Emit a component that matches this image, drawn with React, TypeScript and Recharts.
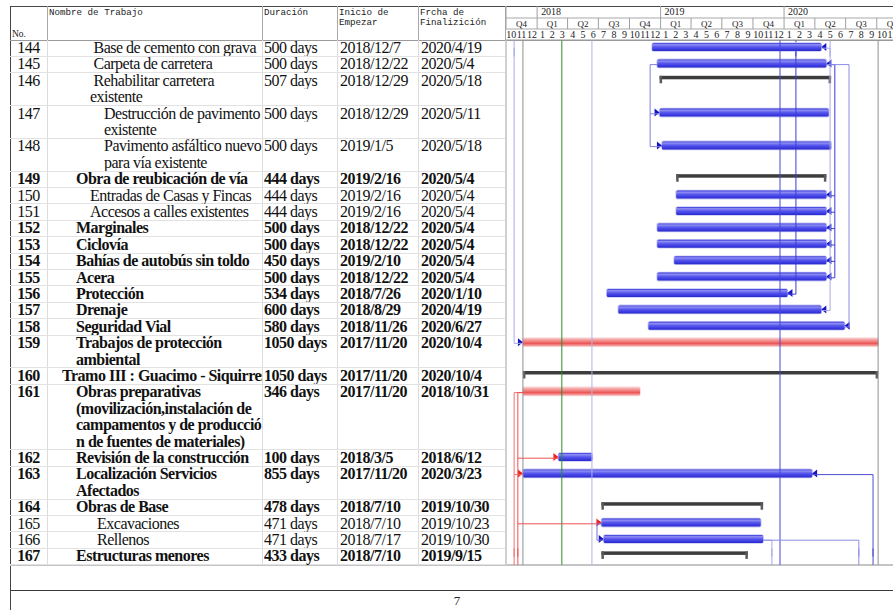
import React from "react";
import { BarChart, Bar, XAxis, YAxis, ReferenceLine, ReferenceArea } from "recharts";

const taskIds = [144, 145, 146, 147, 148, 149, 150, 151, 152, 153, 154, 155, 156, 157, 158, 159, 160, 161, 162, 163, 164, 165, 166, 167];

const taskNames = [
  " Base de cemento con grava",
  " Carpeta de carretera",
  " Rehabilitar carretera\nexistente",
  "Destrucción de pavimento\nexistente",
  "Pavimento asfáltico nuevo\npara vía existente",
  "Obra de reubicación de vía",
  "Entradas de Casas y Fincas",
  "Accesos a calles existentes",
  "Marginales",
  "Ciclovía",
  "Bahías de autobús sin toldo",
  "Acera",
  "Protección",
  "Drenaje",
  "Seguridad Vial",
  "Trabajos de protección\nambiental",
  "Tramo III : Guacimo - Siquirres",
  "Obras preparativas\n(movilización,instalación de\ncampamentos y de producció\nn de fuentes de materiales)",
  "Revisión de la construcción",
  "Localización Servicios\nAfectados",
  "Obras de Base",
  "  Excavaciones",
  "  Rellenos",
  "Estructuras menores",
];

const taskLevels = [3, 3, 3, 4, 4, 2, 3, 3, 2, 2, 2, 2, 2, 2, 2, 2, 1, 2, 2, 2, 2, 3, 3, 2];
const taskBold = [false, false, false, false, false, true, false, false, true, true, true, true, true, true, true, true, true, true, true, true, true, false, false, true];

const taskDurations = [
  "500 days", "500 days", "507 days", "500 days", "500 days", "444 days", "444 days", "444 days",
  "500 days", "500 days", "450 days", "500 days", "534 days", "600 days", "580 days", "1050 days",
  "1050 days", "346 days", "100 days", "855 days", "478 days", "471 days", "471 days", "433 days",
];

const taskStarts = [
  "2018/12/7", "2018/12/22", "2018/12/29", "2018/12/29", "2019/1/5", "2019/2/16", "2019/2/16", "2019/2/16",
  "2018/12/22", "2018/12/22", "2019/2/10", "2018/12/22", "2018/7/26", "2018/8/29", "2018/11/26", "2017/11/20",
  "2017/11/20", "2017/11/20", "2018/3/5", "2017/11/20", "2018/7/10", "2018/7/10", "2018/7/17", "2018/7/10",
];

const taskEnds = [
  "2020/4/19", "2020/5/4", "2020/5/18", "2020/5/11", "2020/5/18", "2020/5/4", "2020/5/4", "2020/5/4",
  "2020/5/4", "2020/5/4", "2020/5/4", "2020/5/4", "2020/1/10", "2020/4/19", "2020/6/27", "2020/10/4",
  "2020/10/4", "2018/10/31", "2018/6/12", "2020/3/23", "2019/10/30", "2019/10/23", "2019/10/30", "2019/9/15",
];

// task | summary | critical
const taskKinds = [
  "task", "task", "summary", "task", "task", "summary", "task", "task",
  "task", "task", "task", "task", "task", "task", "task", "critical",
  "summary", "critical", "task", "task", "summary", "task", "task", "summary",
];

const finishArrowIds = [144, 145, 150, 151, 152, 153, 154, 155, 156, 157, 158, 163];
const startArrowIds = [147, 148, 159, 166];
const startArrowRedIds = [162, 163, 165];

// timeline header
const yearStarts = ["2017/10/1", "2018/1/1", "2019/1/1", "2020/1/1"];
const yearLabels = ["", "2018", "2019", "2020"];
const quarterStarts = [
  "2017/10/1", "2018/1/1", "2018/4/1", "2018/7/1", "2018/10/1", "2019/1/1", "2019/4/1",
  "2019/7/1", "2019/10/1", "2020/1/1", "2020/4/1", "2020/7/1", "2020/10/1",
];
const quarterLabels = ["Q4", "Q1", "Q2", "Q3", "Q4", "Q1", "Q2", "Q3", "Q4", "Q1", "Q2", "Q3", "Q4"];
const monthLabels = [
  "10", "11", "12", "1", "2", "3", "4", "5", "6", "7", "8", "9", "10", "11", "12",
  "1", "2", "3", "4", "5", "6", "7", "8", "9", "10", "11", "12",
  "1", "2", "3", "4", "5", "6", "7", "8", "9", "10", "11",
];

// vertical marker lines (project start, status date, deadline, ..., project finish)
const markerDates = ["2017/11/20", "2018/3/15", "2018/6/12", "2019/12/20", "2020/10/5"];
const markerColors = ["#8e8e8e", "#2a8a2a", "#b0b0ea", "#4646dc", "#8e8e8e"];

// dependency connectors
const links = [
  { date: "2020/2/5", rows: [156], top: true, bottom: false, side: "end", color: "#3a3ad8" },
  { date: "2020/5/30", rows: [145, 150, 151, 152, 153, 154, 155], top: false, bottom: false, side: "end", color: "#3a3ad8" },
  { date: "2020/5/16", rows: [144, 157], top: true, bottom: false, side: "end", color: "#a8a8e8" },
  { date: "2020/7/11", rows: [145, 158], top: false, bottom: false, side: "end", color: "#8c8ce4" },
  { date: "2017/10/25", rows: [159], top: true, bottom: false, side: "start", color: "#a8a8e8" },
  { date: "2017/10/25", rows: [161, 163], top: false, bottom: true, side: "start", color: "#f07070" },
  { date: "2017/11/5", rows: [161, 162, 165], top: false, bottom: true, side: "start", color: "#f05050" },
  { date: "2018/12/1", rows: [145, 147, 148], top: false, bottom: false, side: "start", color: "#8080dc" },
  { date: "2018/6/27", rows: [165, 166], top: false, bottom: false, side: "start", color: "#7070d8" },
  { date: "2019/11/26", rows: [166], top: false, bottom: true, side: "end", color: "#a8a8e8" },
  { date: "2020/8/9", rows: [166], top: false, bottom: true, side: "end", color: "#8c8ce4" },
  { date: "2020/9/20", rows: [163], top: false, bottom: true, side: "end", color: "#4a4ad8" },
];

const EPOCH = Date.UTC(2017, 9, 1);
const DAY = 86400000;
const dayOf = (s: string) => {
  const [y, m, d] = s.split("/").map(Number);
  return (Date.UTC(y, m - 1, d) - EPOCH) / DAY;
};

const LINE_H = 16.4;
const TOP = 40;
const PLOT_W = 388;
const X0 = dayOf("2017/9/28");
const X1 = dayOf("2020/11/18");
const PPD = PLOT_W / (X1 - X0);
const HALF_PX = 0.5 / PPD;

const lineCounts = taskNames.map((n) => n.split("\n").length);
const lineStarts = lineCounts.map((_, i) => lineCounts.slice(0, i).reduce((a, b) => a + b, 0));
const totalLines = lineCounts.reduce((a, b) => a + b, 0);

const chartRows: any[] = [];
taskIds.forEach((id, i) => {
  chartRows.push({
    key: `r${id}`,
    kind: taskKinds[i],
    range: [dayOf(taskStarts[i]), dayOf(taskEnds[i]) + 1],
    finishArrow: finishArrowIds.includes(id),
    startArrow: startArrowRedIds.includes(id) ? "red" : startArrowIds.includes(id) ? "blue" : "",
  });
  for (let j = 1; j < lineCounts[i]; j++) chartRows.push({ key: `r${id}-${j}`, kind: "blank", range: null });
});
const firstKey = `r${taskIds[0]}`;
const lastKey = `r${taskIds[taskIds.length - 1]}`;

const monthTicks = monthLabels.map((_, i) => (Date.UTC(2017, 9 + i, 1) - EPOCH) / DAY);
const quarterTicks = quarterStarts.map(dayOf);
const yearTicks = yearStarts.map(dayOf);

function MonthTick(props: any) {
  const { x, y, index } = props;
  const v = monthTicks[index];
  const next = index + 1 < monthTicks.length ? monthTicks[index + 1] : v + 30;
  return (
    <text x={x + ((next - v) / 2) * PPD} y={y - 2} textAnchor="middle" fontSize={10} fontFamily="'Liberation Serif', serif" fill="#222">
      {monthLabels[index]}
    </text>
  );
}

function QuarterTick(props: any) {
  const { x, y, index } = props;
  const v = quarterTicks[index];
  const next = index + 1 < quarterTicks.length ? quarterTicks[index + 1] : v + 92;
  return (
    <g>
      <line x1={x} x2={x} y1={y - 11} y2={y} stroke="#a0a0a0" />
      <text x={x + ((next - v) / 2) * PPD} y={y - 2} textAnchor="middle" fontSize={9} fontFamily="'Liberation Serif', serif" fill="#222">
        {quarterLabels[index]}
      </text>
    </g>
  );
}

function YearTick(props: any) {
  const { x, y, index } = props;
  return (
    <g>
      <line x1={x} x2={x} y1={y - 12} y2={y} stroke="#a0a0a0" />
      <text x={x + 4} y={y - 2.5} fontSize={10} fontFamily="'Liberation Serif', serif" fill="#222">
        {yearLabels[index]}
      </text>
    </g>
  );
}

function GanttShape(props: any) {
  const { x, y, width, height, payload } = props;
  if (!payload || !payload.range || !isFinite(x) || !isFinite(width)) return <g />;
  const cy = y + height / 2 - 1;
  const x2 = x + width;
  if (payload.kind === "summary") {
    return (
      <g>
        <rect x={x} y={cy - 4} width={width} height={3.5} fill="#3d3d3d" />
        <rect x={x} y={cy - 4} width={2.5} height={7.5} fill="#5a5a5a" />
        <rect x={x2 - 2.5} y={cy - 4} width={2.5} height={7.5} fill="#5a5a5a" />
      </g>
    );
  }
  const red = payload.kind === "critical";
  return (
    <g>
      <rect x={x - 0.8} y={cy - 4.8} width={width + 1.6} height={9.6} rx={2.5} fill={red ? "#fbd2d2" : "#c8c8f6"} />
      <rect x={x} y={cy - 4} width={width} height={8} rx={1.5} fill={red ? "url(#gRed)" : "url(#gBlue)"} />
      {payload.finishArrow && (
        <polygon points={`${x2},${cy} ${x2 + 5},${cy - 4} ${x2 + 5},${cy + 4}`} fill="#1414c4" />
      )}
      {payload.startArrow && (
        <polygon
          points={`${x},${cy} ${x - 5},${cy - 4} ${x - 5},${cy + 4}`}
          fill={payload.startArrow === "red" ? "#ee2222" : "#1414c4"}
        />
      )}
    </g>
  );
}

const cellText: React.CSSProperties = {
  position: "absolute",
  top: 0,
  fontFamily: "'Liberation Serif', 'Times New Roman', serif",
  fontSize: 16,
  letterSpacing: -0.5,
  lineHeight: `${LINE_H}px`,
  whiteSpace: "pre",
  overflow: "hidden",
  color: "#111",
};

const headText: React.CSSProperties = {
  position: "absolute",
  top: 8,
  fontFamily: "'Liberation Mono', monospace",
  fontSize: 9.2,
  lineHeight: "9.6px",
  whiteSpace: "pre",
  color: "#222",
};

export default function App() {
  const bodyBottom = TOP + totalLines * LINE_H;
  const colLines = [47, 262, 337, 418];
  return (
    <div style={{ position: "absolute", left: 0, top: 0, width: 893, height: 610, background: "#fff", overflow: "hidden" }}>
      {/* frame */}
      <div style={{ position: "absolute", left: 10, top: 5.5, width: 883, height: 1.5, background: "#4a4a4a" }} />
      <div style={{ position: "absolute", left: 9.5, top: 5.5, width: 1.2, height: 605, background: "#444" }} />
      <div style={{ position: "absolute", left: 10, top: 39.5, width: 883, height: 1.2, background: "#9a9a9a" }} />
      <div style={{ position: "absolute", left: 10, top: bodyBottom - 0.5, width: 883, height: 2, background: "#c4c4c4" }} />
      <div style={{ position: "absolute", left: 10, top: 589.5, width: 883, height: 1.5, background: "#3a3a3a" }} />
      <div style={{ position: "absolute", left: 440, top: 593, width: 34, textAlign: "center", fontFamily: "'Liberation Serif', serif", fontSize: 13, color: "#222" }}>7</div>

      {/* column separators */}
      {[...colLines, 505].map((cx) => (
        <React.Fragment key={cx}>
          <div style={{ position: "absolute", left: cx - 0.5, top: 6, width: 1, height: 34, background: "#a8a8a8" }} />
          <div style={{ position: "absolute", left: cx - 0.5, top: 40, width: cx === 505 ? 2 : 1, height: bodyBottom - 40, background: cx === 505 ? "#d0d0d0" : "#dcdcdc" }} />
        </React.Fragment>
      ))}

      {/* header */}
      <div style={{ ...headText, left: 12, top: 30, fontFamily: "'Liberation Serif', serif", fontSize: 9.5 }}>No.</div>
      <div style={{ ...headText, left: 49 }}>Nombre de Trabajo</div>
      <div style={{ ...headText, left: 264 }}>Duración</div>
      <div style={{ ...headText, left: 339 }}>{"Inicio de\nEmpezar"}</div>
      <div style={{ ...headText, left: 420 }}>{"Frcha de\nFinalizición"}</div>

      {/* table rows */}
      {taskIds.map((id, i) => {
        const top = TOP + lineStarts[i] * LINE_H;
        const h = lineCounts[i] * LINE_H;
        const weight = taskBold[i] ? 700 : 400;
        return (
          <div key={id} style={{ position: "absolute", left: 10, top, width: 495, height: h }}>
            <div style={{ position: "absolute", left: 0, right: 0, bottom: -0.5, height: 1, background: "#e2e2e2" }} />
            <div style={{ ...cellText, left: 0, width: 37, textAlign: "center", fontWeight: weight }}>{id}</div>
            <div style={{ ...cellText, left: 38 + 14 * taskLevels[i], width: 252 - 38 - 14 * taskLevels[i], fontWeight: weight }}>
              {taskNames[i]}
            </div>
            <div style={{ ...cellText, left: 254, width: 73, fontWeight: weight }}>{taskDurations[i]}</div>
            <div style={{ ...cellText, left: 330, width: 78, fontWeight: weight }}>{taskStarts[i]}</div>
            <div style={{ ...cellText, left: 411, width: 84, fontWeight: weight }}>{taskEnds[i]}</div>
          </div>
        );
      })}

      {/* gantt */}
      <div style={{ position: "absolute", left: 505, top: 6 }}>
        <BarChart
          layout="vertical"
          width={PLOT_W}
          height={34 + totalLines * LINE_H}
          data={chartRows}
          barSize={8}
          margin={{ top: 0, right: 0, bottom: 0, left: 0 }}
        >
          <defs>
            <linearGradient id="gBlue" x1="0" y1="0" x2="0" y2="1">
              <stop offset="0%" stopColor="#3434d8" />
              <stop offset="20%" stopColor="#8e8ef3" />
              <stop offset="50%" stopColor="#5656ec" />
              <stop offset="80%" stopColor="#3a3ae2" />
              <stop offset="100%" stopColor="#2a2ac6" />
            </linearGradient>
            <linearGradient id="gRed" x1="0" y1="0" x2="0" y2="1">
              <stop offset="0%" stopColor="#f7c0c0" />
              <stop offset="35%" stopColor="#f28a8a" />
              <stop offset="65%" stopColor="#ec5454" />
              <stop offset="100%" stopColor="#f5b0b0" />
            </linearGradient>
          </defs>
          <XAxis
            xAxisId="month"
            type="number"
            orientation="top"
            domain={[X0, X1]}
            allowDataOverflow
            ticks={monthTicks}
            interval={0}
            height={11}
            tickSize={0}
            tickMargin={0}
            tickLine={false}
            axisLine={{ stroke: "#9a9a9a" }}
            tick={(p: any) => <MonthTick {...p} />}
          />
          <XAxis
            xAxisId="quarter"
            type="number"
            orientation="top"
            domain={[X0, X1]}
            allowDataOverflow
            ticks={quarterTicks}
            interval={0}
            height={11}
            tickSize={0}
            tickMargin={0}
            tickLine={false}
            axisLine={{ stroke: "#a8a8a8" }}
            tick={(p: any) => <QuarterTick {...p} />}
          />
          <XAxis
            xAxisId="year"
            type="number"
            orientation="top"
            domain={[X0, X1]}
            allowDataOverflow
            ticks={yearTicks}
            interval={0}
            height={12}
            tickSize={0}
            tickMargin={0}
            tickLine={false}
            axisLine={{ stroke: "#a8a8a8" }}
            tick={(p: any) => <YearTick {...p} />}
          />
          <YAxis yAxisId="rows" type="category" dataKey="key" hide />

          {markerDates.map((d, i) => (
            <ReferenceLine key={`m${i}`} xAxisId="month" yAxisId="rows" x={dayOf(d)} stroke={markerColors[i]} strokeWidth={1} />
          ))}

          {links.map((lk, li) => {
            const x = dayOf(lk.date);
            const keys = lk.rows.map((id) => `r${id}`);
            const yA = lk.top ? firstKey : keys[0];
            const yB = lk.bottom ? lastKey : keys[keys.length - 1];
            const parts: React.ReactNode[] = [];
            if (yA !== yB) {
              parts.push(
                <ReferenceLine key={`v${li}`} xAxisId="month" yAxisId="rows" segment={[{ x, y: yA }, { x, y: yB }]} stroke={lk.color} strokeWidth={1} />
              );
            }
            if (lk.top) {
              parts.push(
                <ReferenceArea key={`t${li}`} xAxisId="month" yAxisId="rows" x1={x - HALF_PX} x2={x + HALF_PX} y2={firstKey} fill={lk.color} fillOpacity={1} stroke="none" />
              );
            }
            if (lk.bottom) {
              parts.push(
                <ReferenceArea key={`b${li}`} xAxisId="month" yAxisId="rows" x1={x - HALF_PX} x2={x + HALF_PX} y1={lastKey} fill={lk.color} fillOpacity={1} stroke="none" />
              );
            }
            lk.rows.forEach((id, ri) => {
              const t = taskIds.indexOf(id);
              const edge = lk.side === "end" ? dayOf(taskEnds[t]) + 1 : dayOf(taskStarts[t]);
              parts.push(
                <ReferenceLine key={`s${li}-${ri}`} xAxisId="month" yAxisId="rows" segment={[{ x, y: keys[ri] }, { x: edge, y: keys[ri] }]} stroke={lk.color} strokeWidth={1} />
              );
            });
            return parts;
          })}

          <Bar
            xAxisId="month"
            yAxisId="rows"
            dataKey="range"
            isAnimationActive={false}
            shape={(p: any) => <GanttShape {...p} />}
          />
        </BarChart>
      </div>
    </div>
  );
}
